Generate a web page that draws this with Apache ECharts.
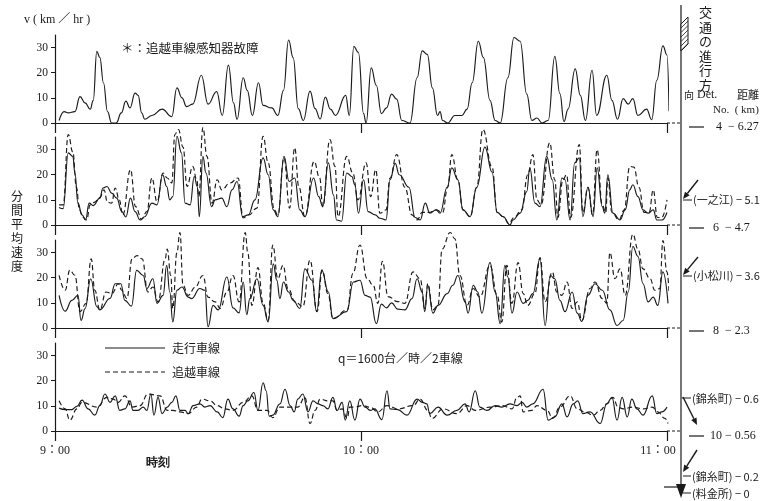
<!DOCTYPE html>
<html><head><meta charset="utf-8">
<script src="https://cdn.jsdelivr.net/npm/echarts@6/dist/echarts.min.js"></script>
<style>html,body{margin:0;padding:0;background:#fff}#c{width:781px;height:501px}</style>
</head><body><div id="c"></div>
<script>
// time ticks (minutes after 9:00)
const timeTickLabels = {0:'9：00', 60:'10：00', 120:'11：00\u2003\u2002'};
const speedTicks = [0, 10, 20, 30];
const laneNames = ['走行車線', '追越車線'];

// Panel 1 (Det.4, 6.27km): running lane only (passing-lane detector failed)
const p1Run = [[0.8,1],[1.8,4.5],[2.6,4],[3.9,4.5],[4.9,10.5],[5.9,8],[6.9,5.5],[7.5,9],[8.2,28.5],[8.8,26],[9.5,16],[10.3,4.5],[11.1,0],[12,0],[13,4],[13.9,8.7],[14.7,6],[15.7,11.9],[16.3,11],[17,4],[17.6,1.5],[19,3],[21,5.5],[22.9,2.5],[23.9,14],[24.9,10],[25.8,6.5],[27,7.5],[28.7,19],[30,7.5],[31.7,12.5],[32.8,3],[34,23],[35,8],[35.7,1.5],[36.9,18],[37.7,13],[38.7,3],[39.9,16],[40.8,7],[42.5,6],[43.7,3],[44.8,13],[45.8,33],[46.7,26],[47.7,5.7],[48.7,1],[50,12.7],[51,5.7],[52,1.6],[53,10.3],[54,5.5],[55,3],[57,11],[57.7,3],[58.6,30.5],[59.5,28],[60.5,3.7],[61,0],[62,21.9],[63,15],[64,3.7],[65,6],[66,11.5],[67,9.5],[68,1],[69.6,0],[71,18],[72,28.7],[73,27.3],[74,14],[75,3],[75.5,4.5],[76,1],[77,0],[78.4,3],[79.8,3],[80.8,5.5],[81.8,16],[83,32.5],[84,26],[85.3,9],[86.3,1],[87.3,0],[88.8,18],[90,34],[91.2,32.5],[92.5,11.5],[93.5,1],[94.5,2],[95.5,0],[96.7,1],[98,26.5],[99,11.7],[99.8,0.5],[100.6,5.5],[102,21.5],[103,11],[104,1],[105.3,21],[106.2,3],[108.2,19],[109.2,9],[110.3,1.5],[111.4,9.7],[112.4,7.5],[113.3,9.7],[114.3,3],[116,5.5],[117,1.3],[118,17],[119.2,30.7],[120,27],[120.4,4.7]];

// Panel 2 (Det.6, 4.7km)
const p2Run = [[0.8,7],[1.6,6.5],[2.6,28.7],[3.5,27.3],[3.9,20.7],[4.5,8.7],[5.3,4],[6,2],[6.7,8.7],[7.5,7.7],[8.8,10.7],[9.4,14.7],[10.2,15.3],[11.1,12.7],[12.1,10.7],[13.1,5.3],[13.9,3.2],[14.8,10.7],[15.7,5.3],[16.7,2],[17.6,3.3],[19,8.7],[20,8],[21.1,20],[21.9,15.3],[22.5,10],[23.1,11.3],[23.9,35.3],[24.8,28.7],[25.5,8.7],[26.5,8],[27.3,19.3],[27.9,15.3],[28.3,3.3],[29,27.3],[29.6,20.7],[30.7,7.3],[31.4,10],[32.7,10.7],[33.7,7.3],[34.7,14],[35.7,17.3],[36.8,3.3],[37.9,4],[39.2,10],[40.8,26.7],[41.8,20],[42.8,6],[43.7,3.3],[44.9,27.3],[45.9,17.3],[47,18.7],[48,6],[49,3.3],[50.7,18.7],[51.7,11.3],[52.5,7.3],[53.6,24.7],[54.6,12],[55.2,2],[56.2,1.5],[57.2,20.7],[58.2,19.3],[58.8,16],[59.5,4.7],[60.5,18],[61.4,5.3],[62.8,4],[63.7,2.7],[64.9,2],[65.7,18],[66.7,24.5],[67.5,20],[69.4,15],[70.6,3],[71.6,2],[72.6,8.7],[73.5,4.7],[74.7,6],[75.5,4.7],[76.9,15],[77.8,22.7],[79,18],[80,6],[81.4,3.3],[82.7,15],[84.3,31],[85.7,21],[86.7,5],[87.9,3.3],[89.2,0],[89.8,2],[91.2,4.7],[92.5,13.3],[93.1,22.7],[94.1,8.7],[95.1,7.3],[96.4,27.3],[97.5,18],[98.4,2],[99.4,18.7],[100,18],[101,2],[101.9,24.7],[102.8,26.7],[103.5,3.3],[104.5,15],[105.5,3.3],[106.3,22.7],[107.3,7.3],[107.8,4.7],[108.4,20],[109.4,4.7],[110.8,2],[111.8,6],[112.7,14],[113.3,16],[114.3,11.3],[115.3,6],[116.3,4.7],[117.3,6],[118,2],[119,2],[120,5]];
const p2Pass = [[0.8,8],[1.6,8],[2.6,36],[3.5,29],[4.2,15],[4.8,6],[5.5,3],[6.2,2],[6.9,8],[7.7,9],[8.8,11],[9.6,14],[10.3,9],[11.1,8.7],[11.8,14.7],[12.6,10],[13.3,4],[14.8,22],[15.8,7.3],[17,2.3],[18,5.3],[19,18.7],[20,9.3],[21.2,20.7],[22,18.7],[22.9,16.7],[23.5,36],[24.2,38],[25.1,31],[25.9,15.3],[27,23.3],[27.8,18],[28.2,11.3],[29,38.7],[29.8,27.3],[30.8,8.7],[31.8,18],[32.7,14],[34.3,16.7],[35.9,18.7],[36.9,2.8],[38,4],[39.6,6.7],[40.8,35.3],[41.8,24.7],[43,6],[43.7,4],[44.9,26.7],[46,6.7],[47,30.7],[47.8,15.3],[49,3.3],[50.8,25.3],[51.9,18.7],[52.5,7.3],[53.9,34],[54.9,23.3],[55.5,3.3],[57.2,27.3],[58.4,20.7],[59.4,10],[61,24.7],[61.9,11.3],[62.9,22],[63.7,4.7],[64.9,6],[65.7,18.7],[67,28],[68.6,15],[70,4],[71,2],[72,5],[73.3,5],[74.7,6],[76,5],[77,15],[77.8,28],[79,18],[80,6],[81.4,3.3],[82.7,15],[83.9,38],[85.7,23],[86.7,5],[87.9,3.3],[89,0.5],[90,3],[91.5,6],[92.7,20],[93.7,28],[94.5,10],[95.3,8],[97,32.7],[98,18],[98.6,3],[99.6,18],[100.3,20],[101.1,3],[102.8,32],[103.5,5],[104.5,15],[105.4,4],[106.3,30],[107.3,8],[108,5],[108.4,18.7],[109.2,5],[110.6,2],[111.6,6],[112.7,23.3],[113.5,23],[114.5,15],[115.5,5],[116.5,5],[117.3,14],[118.1,3],[119,3],[120,10]];

// Panel 3 (Det.8, 2.3km)
const p3Run = [[0.8,13],[2,6.7],[3.3,11],[4.5,13],[5.1,3],[5.9,7.7],[7,19.6],[8.2,8.5],[8.8,7.2],[10.8,11.8],[11.8,17.6],[12.9,17.6],[13.7,11],[15,8.7],[16,22.9],[17.3,20.9],[18,15.7],[19.2,19.6],[20,9.8],[21.2,13],[21.9,24.9],[22.5,14.3],[23.1,2.4],[23.9,15],[24.9,16.3],[26.1,12.3],[26.8,11.7],[28.4,15.7],[29.4,15],[30,0.5],[31,9],[32,7.2],[33.7,20.3],[34.9,8],[36.1,6],[36.9,18.3],[37.6,5.3],[38.2,11.7],[39.6,19.6],[40.8,9],[41.8,2.4],[42.8,25.5],[43.5,19],[44.1,11.7],[44.8,18.3],[45.8,14.3],[46.7,11],[48,7.8],[49,23.5],[50.4,19],[51.3,6.5],[52.3,23],[53.6,14.3],[54.5,3.7],[57.2,6.5],[58.5,18.3],[59.8,19],[60.8,13],[61.8,12.3],[63,1.7],[64,9.5],[65,8],[66,10],[67.2,7.5],[68.6,7.2],[70,11.7],[71,19.6],[72,14.3],[72.5,6.5],[73.1,17],[74.1,5.9],[75.1,9],[76.9,13.7],[78,17],[79,20.9],[80.4,10.4],[81,5.9],[82,17],[82.9,14.3],[83.7,5.9],[85.3,26.1],[86.3,14.3],[87.3,1.7],[88.2,24.9],[88.8,20.3],[89.6,5.9],[90.6,14.3],[91.8,9.8],[92.7,11],[93.7,13.7],[95.1,27.5],[96.1,1],[97.1,20.9],[98,19.6],[99,11],[100,6.5],[101.4,14.3],[102.4,5.9],[103.3,2.6],[104.5,13],[105.9,17.6],[107.3,15],[108.8,7.2],[110.2,1],[111.4,3],[112.4,14.3],[113.3,32.4],[114.3,28.5],[115.3,17.6],[116.3,10.4],[117.3,12.3],[118.2,9],[119.2,22.3],[120.2,9.8]];
const p3Pass = [[0.8,20.9],[2,15],[2.9,23],[3.9,21],[4.9,6.5],[6.1,9.8],[7.1,27.5],[7.8,15],[8.8,7.2],[10,14.3],[11.2,13.7],[12.4,17.6],[13.1,15],[14.1,11.7],[15.1,27.5],[16.1,28.8],[17.1,27.5],[18.2,14.3],[19.2,16.3],[20.2,10.4],[21.6,27.5],[22,31.4],[22.7,20.9],[23.1,7.8],[23.9,30],[24.5,38],[25.1,17],[26.1,13],[27.5,16.3],[29,20.9],[30,12.3],[31.4,10.4],[32.4,7.8],[33.7,14.3],[34.9,20.9],[36.1,10.4],[37.3,38],[37.8,30],[38.6,9],[39.8,24],[40.8,10],[41.8,3],[42.7,33],[43.7,19.6],[44.7,24.9],[45.7,15.7],[47.1,10.4],[48.6,8.5],[50,27],[51.4,6.5],[52.4,23],[53.5,13.7],[54.5,3.7],[57.3,7.2],[58.4,21.6],[59.8,33],[61.2,19.6],[62.4,17],[63.3,9.8],[64.2,26.5],[65.3,12.5],[67.2,10.5],[68.6,9.8],[70.2,22.3],[71.6,19.6],[72.5,7.8],[73.1,17.6],[74.1,7.2],[75.1,9],[75.9,31.4],[77.5,38],[78.4,35.5],[79.4,20.9],[80.8,9],[82,15.7],[83.3,12.3],[85.3,24.9],[86.7,13],[87.6,2.3],[88.6,24.9],[89.6,9.8],[90.8,26],[91.8,13.7],[92.7,9],[94.1,13.7],[95.1,28],[96.1,10.4],[97.5,22.3],[98.4,14.3],[99.4,13],[100.4,18.3],[101.4,7.8],[102.4,10.4],[103.3,3],[104.9,15.7],[105.9,18.3],[107.3,11.7],[108.2,9.8],[108.8,30],[109.8,19.6],[110.8,23.5],[111.8,13],[113.3,37.3],[114.3,31.4],[115.3,23.5],[116.7,19.6],[117.6,15],[118.6,15.7],[119.2,34.8],[120,22.3],[120.4,14.3]];

// Panel 4 (Det.10, 0.56km), q = 1600 veh/h/2 lanes
const p4Run = [[0.8,9.1],[2,8.5],[3.3,8.5],[4.3,9.8],[5.3,12.3],[6.5,8.8],[7.8,6.3],[8.8,10.1],[9.8,14.7],[10.8,11.4],[11.8,14],[12.7,8.2],[13.7,8.8],[14.7,12],[15.3,8.2],[16.3,8.2],[17.3,9.5],[18,8.2],[18.8,14.7],[19.4,6.3],[20.2,13.4],[21,6.9],[22,9.5],[22.9,11.4],[23.7,14],[24.5,8.2],[25.5,8.2],[26.1,6.9],[27.1,10.1],[28.4,10.8],[29.4,9.5],[30.4,10.1],[31.8,7.6],[32.9,5.3],[33.9,12.7],[34.9,8.8],[36.1,5.9],[36.9,10.1],[37.8,12],[39,15.3],[39.8,8.2],[40.8,19.2],[41.4,16],[42,5.9],[42.7,6.3],[44.1,10.8],[45.1,16.6],[46.1,10.1],[46.9,7.6],[47.6,12.7],[48.6,14.7],[49.6,7.6],[50.6,12],[51.6,10.8],[52.5,10.1],[53.5,8.8],[54.5,13.4],[55.3,8.2],[56.3,11.4],[56.9,4.3],[57.8,12],[58.8,4.3],[59.8,12.7],[60.8,9.5],[61.8,8.2],[62.7,8.8],[64.1,4.5],[65.1,16],[65.7,8.8],[67.2,8.5],[69,6.3],[71,12.7],[72,11.4],[72.9,10.8],[73.5,6.9],[75.1,9.5],[76.9,6.3],[78.8,8.2],[80.4,10.8],[81.2,7.6],[82.4,16],[83.3,9.5],[84.7,8.2],[86.3,10.1],[87.6,9.5],[89.2,10.8],[90.6,10.1],[91.6,11.4],[92.5,9.5],[93.7,10.8],[95.7,16.6],[96.7,4.3],[98,5.6],[99.4,10.8],[100.4,5.6],[101.6,10.8],[102.5,12],[103.5,6.9],[104.9,7.6],[106.9,3],[108.2,10.8],[109.2,13.4],[110.2,4.3],[111.2,13.4],[112.2,5.6],[113.1,12.7],[114.1,8.8],[115.3,6.3],[117.1,14],[118,6.9],[119,7.6],[120,9.5]];
const p4Pass = [[0.8,12],[2,8.8],[2.9,4.3],[4.3,8.8],[5.3,11.4],[8.2,9.5],[10.2,13.4],[11.4,12.7],[12.4,11.4],[13.7,14],[15.1,9.5],[16.7,10.1],[18.2,14.7],[20.6,14],[22,8.2],[23.1,8.2],[24.5,7.6],[26.1,6.9],[27.8,9.5],[28.8,12.7],[30.4,12],[31.8,10.1],[33.3,8.8],[34.9,8.2],[36.9,11.4],[38.6,14],[39.8,8.2],[41.6,8.2],[42.7,5.3],[44.1,9.5],[46.1,9.5],[47.6,9.5],[49,13.4],[50,3],[51,8.2],[52,12.7],[53.5,12],[54.5,12],[55.3,8.2],[56.3,8.8],[57.3,5],[57.8,9.5],[58.8,9.5],[60.2,10.1],[61.8,9.5],[63.3,7.6],[65.1,10.1],[67.3,8.8],[70.2,10.1],[71.6,12.7],[73.1,8.2],[73.9,5],[76.1,8.8],[78.8,6.9],[80.8,10.1],[82.4,8.2],[85.3,9.5],[87.8,10.1],[89.6,8.8],[90.6,13.4],[91.2,14],[91.8,7.6],[93.5,8.2],[94.5,10.1],[96.5,8.2],[97.6,5],[99,9.5],[101,14],[102.4,8.8],[103.9,7.6],[105.5,6.3],[106.9,8.2],[108.2,10.8],[109.4,13.4],[110.4,9.5],[111.4,8.8],[113.3,9.5],[115.3,8.8],[117.1,9.5],[118.2,7.6],[119.6,5],[120.2,3]];

const SERIF = 'Liberation Serif, DejaVu Serif, Noto Sans CJK JP, serif';
const CJK = 'Noto Sans CJK JP, Liberation Serif, sans-serif';
const INK = '#1a1a1a';

const chart = echarts.init(document.getElementById('c'), null, {renderer: 'canvas'});
const tops = [35, 137, 240, 343];
const grids = tops.map(t => ({left: 55, width: 612, top: t, height: 88}));
const xAxes = tops.map((t, i) => ({
  gridIndex: i, type: 'value', min: 0, max: 120, interval: 60,
  axisLine: {show: true, lineStyle: {color: INK, width: 1.2}},
  axisTick: {show: true, length: 10, lineStyle: {color: INK, width: 1.2}},
  splitLine: {show: false},
  axisLabel: {show: i === 3, margin: 14, color: INK, fontFamily: SERIF, fontSize: 12,
    formatter: v => timeTickLabels[v] || ''}
}));
const yAxes = tops.map((t, i) => ({
  gridIndex: i, type: 'value', min: 0, max: 35, interval: 10,
  axisLine: {show: true, lineStyle: {color: INK, width: 1.2}},
  axisTick: {show: true, length: 4, lineStyle: {color: INK}},
  splitLine: {show: false},
  axisLabel: {color: INK, fontFamily: SERIF, fontSize: 11.5, margin: 7, showMaxLabel: false,
    formatter: v => speedTicks.includes(v) ? String(v) : ''}
}));
function mk(name, data, idx, dashed) {
  return {name, type: 'line', xAxisIndex: idx, yAxisIndex: idx, data,
    showSymbol: false, smooth: 0.45, smoothMonotone: 'x', clip: false, animation: false,
    lineStyle: {color: INK, width: 1.15, type: dashed ? [5, 3] : 'solid'}};
}
const series = [
  mk(laneNames[0], p1Run, 0, false),
  mk(laneNames[0], p2Run, 1, false), mk(laneNames[1], p2Pass, 1, true),
  mk(laneNames[0], p3Run, 2, false), mk(laneNames[1], p3Pass, 2, true),
  mk(laneNames[0], p4Run, 3, false), mk(laneNames[1], p4Pass, 3, true)
];

function txt(x, y, s, size, fam, extra) {
  return Object.assign({type: 'text', x, y, style: Object.assign({text: s, fill: INK,
    font: `${size}px ${fam}`, textVerticalAlign: 'middle'}, extra || {})});
}
function ln(x1, y1, x2, y2, w, dash) {
  return {type: 'line', shape: {x1, y1, x2, y2}, style: {stroke: INK, lineWidth: w || 1, lineDash: dash || null}};
}
function arrow(x1, y1, x2, y2) {
  const a = Math.atan2(y2 - y1, x2 - x1), L = 7, W = 3;
  const bx = x2 - L * Math.cos(a), by = y2 - L * Math.sin(a);
  const px = -Math.sin(a) * W, py = Math.cos(a) * W;
  return [ln(x1, y1, bx, by, 1.4),
    {type: 'polygon', shape: {points: [[x2, y2], [bx + px, by + py], [bx - px, by - py]]}, style: {fill: INK}}];
}
const g = [];
g.push(txt(24, 20, 'v ( km ／ hr )', 12, SERIF));
g.push(txt(121, 48, '＊：追越車線感知器故障', 12.5, CJK));
g.push({type: 'text', x: 11, y: 189, style: {text: '分\n間\n平\n均\n速\n度', font: `12px ${CJK}`, fill: INK, lineHeight: 14}});
// legend
g.push(ln(105, 348, 165, 348, 1.1));
g.push(ln(105, 372, 165, 372, 1.1, [5, 3]));
g.push(txt(172, 348, laneNames[0], 12, CJK));
g.push(txt(172, 372, laneNames[1], 12, CJK));
g.push(txt(338, 358, 'q＝1600台／時／2車線', 12, CJK));
g.push(txt(146, 463, '時刻', 13, CJK, {fontWeight: 'bold'}));
// right side direction line
g.push(ln(681, 5, 681, 487, 1.2));
g.push({type: 'polygon', shape: {points: [[676, 484], [686, 484], [681, 498]]}, style: {fill: INK}});
g.push(ln(664, 487, 681, 487, 1.2));
g.push({type: 'polygon', shape: {points: [[681, 24], [688, 17], [688, 44], [681, 51]]}, style: {fill: '#fff', stroke: INK, lineWidth: 1}});
for (let k = 0; k < 6; k++) g.push(ln(681, 28 + k * 4.5, 688, 21 + k * 4.5, 0.8));
g.push({type: 'text', x: 699, y: 5, style: {text: '交\n通\nの\n進\n行\n方', font: `13px ${CJK}`, fill: INK, lineHeight: 14.5}});
g.push(txt(684, 95, '向', 10, CJK));
g.push(txt(697, 95, 'Det.', 12, SERIF));
g.push(txt(737, 95, '距離', 11, CJK));
g.push(txt(713, 110, 'No.  ( km)', 11, SERIF));
// detector rows
const rows = [[127, '4  − 6.27', 716], [228, '6  − 4.7', 713], [331, '8  − 2.3', 713], [436, '10 − 0.56', 710]];
const axisY = [123, 225, 328, 431];
rows.forEach((r, i) => {
  g.push(ln(667, axisY[i], 681, axisY[i], 1, [3, 2]));
  g.push(ln(689, r[0], 704, r[0], 1.2));
  g.push(txt(r[2], r[0], r[1], 12, SERIF));
});
// place rows
g.push(...arrow(698, 180, 683, 199));
g.push(ln(683, 200, 692, 200, 1));
g.push(txt(693, 200, '(一之江) − 5.1', 11, CJK));
g.push(...arrow(698, 257, 683, 275));
g.push(ln(683, 276, 692, 276, 1));
g.push(txt(693, 276, '(小松川) − 3.6', 11, CJK));
g.push(ln(682, 398, 691, 398, 1));
g.push(...arrow(683, 397, 697, 425));
g.push(txt(692, 399, '(錦糸町) − 0.6', 11, CJK));
g.push(...arrow(697, 450, 683, 472));
g.push(ln(683, 476, 691, 476, 1));
g.push(txt(692, 477, '(錦糸町) − 0.2', 11, CJK));
g.push(ln(683, 493, 691, 493, 1));
g.push(txt(692, 494, '(料金所) − 0', 11, CJK));

chart.setOption({
  animation: false,
  backgroundColor: '#fff',
  grid: grids, xAxis: xAxes, yAxis: yAxes, series,
  graphic: {elements: g}
});
</script></body></html>
